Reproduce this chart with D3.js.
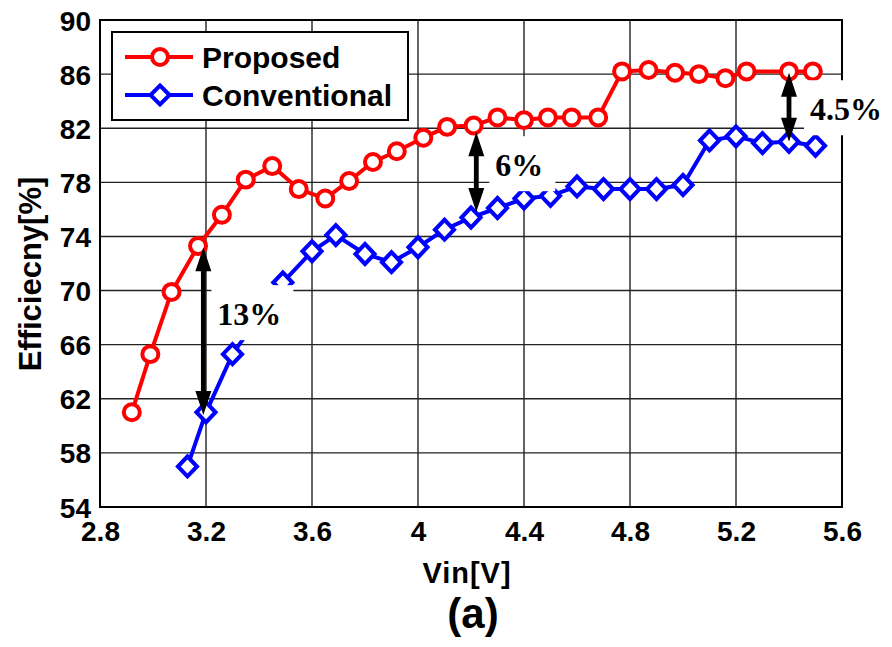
<!DOCTYPE html>
<html>
<head>
<meta charset="utf-8">
<script src="https://cdn.jsdelivr.net/npm/d3@7"></script>
<style>
  html, body { margin: 0; padding: 0; background: #fff; }
  svg { display: block; }
</style>
</head>
<body>
<svg id="chart" width="892" height="647"></svg>
<script>
// Efficiency vs input voltage, proposed vs conventional converter
const vinProposed = [2.92, 2.99, 3.07, 3.17, 3.26, 3.35, 3.45, 3.55, 3.65, 3.74, 3.83, 3.92, 4.02, 4.11,
                     4.21, 4.30, 4.40, 4.49, 4.58, 4.68, 4.77, 4.87, 4.97, 5.06, 5.16, 5.24, 5.40, 5.49];
const effProposed = [61.0, 65.3, 69.9, 73.3, 75.6, 78.2, 79.2, 77.5, 76.8, 78.1, 79.5, 80.3, 81.3, 82.1,
                     82.2, 82.8, 82.6, 82.8, 82.8, 82.8, 86.2, 86.3, 86.1, 86.0, 85.7, 86.2, 86.2, 86.2];

const vinConventional = [3.13, 3.20, 3.30, 3.49, 3.60, 3.69, 3.80, 3.90, 4.00, 4.10, 4.20, 4.30,
                         4.40, 4.50, 4.60, 4.70, 4.80, 4.90, 5.00, 5.10, 5.20, 5.30, 5.40, 5.50];
const effConventional = [57.0, 61.0, 65.3, 70.6, 72.9, 74.1, 72.7, 72.1, 73.2, 74.5, 75.4, 76.1,
                         76.8, 77.0, 77.7, 77.5, 77.5, 77.5, 77.8, 81.1, 81.4, 80.9, 81.0, 80.7];

const xTicks = [2.8, 3.2, 3.6, 4.0, 4.4, 4.8, 5.2, 5.6];
const yTicks = [54, 58, 62, 66, 70, 74, 78, 82, 86, 90];
const seriesNames = ["Proposed", "Conventional"];

// efficiency gap annotations: voltage, upper and lower ends of the arrow
const gapLabels = ["13%", "6%", "4.5%"];
const gapVin    = [3.19, 4.22, 5.40];
const gapTop    = [73.2, 81.7, 86.1];
const gapBottom = [60.8, 75.8, 81.0];

const svg = d3.select("#chart");
const M = { left: 100, right: 842, top: 20, bottom: 507 };

const x = d3.scaleLinear().domain([2.8, 5.6]).range([M.left, M.right]);
const y = d3.scaleLinear().domain([54, 90]).range([M.bottom, M.top]);

const SANS = "'Liberation Sans', Arial, Helvetica, sans-serif";
const SERIF = "'Liberation Serif', 'Times New Roman', serif";

// grid
const grid = svg.append("g");
grid.selectAll("line.gx").data(xTicks).join("line")
  .attr("x1", d => x(d)).attr("x2", d => x(d))
  .attr("y1", M.top).attr("y2", M.bottom)
  .attr("stroke", "#222").attr("stroke-width", 1.4);
grid.selectAll("line.gy").data(yTicks).join("line")
  .attr("x1", M.left).attr("x2", M.right)
  .attr("y1", d => y(d)).attr("y2", d => y(d))
  .attr("stroke", "#222").attr("stroke-width", 1.4);

// axes
const xAxis = d3.axisBottom(x).tickValues(xTicks).tickSize(0).tickPadding(14)
  .tickFormat(d => d3.format("")(+d.toFixed(1)));
const yAxis = d3.axisLeft(y).tickValues(yTicks).tickSize(0).tickPadding(9);

const gx = svg.append("g").attr("transform", `translate(0,${M.bottom})`).call(xAxis);
const gy = svg.append("g").attr("transform", `translate(${M.left},0)`).call(yAxis);
[gx, gy].forEach(g => {
  g.select(".domain").remove();
  g.selectAll("text")
    .attr("fill", "#000")
    .style("font-family", SANS)
    .style("font-weight", "bold")
    .style("font-size", "28px");
});
gx.selectAll("text").attr("dy", "0.72em");
gy.selectAll("text").attr("dy", "0.36em");

// plot frame
svg.append("rect")
  .attr("x", M.left).attr("y", M.top)
  .attr("width", M.right - M.left).attr("height", M.bottom - M.top)
  .attr("fill", "none").attr("stroke", "#000").attr("stroke-width", 2);

// series
const proposed = vinProposed.map((v, i) => ({ v, e: effProposed[i] }));
const conventional = vinConventional.map((v, i) => ({ v, e: effConventional[i] }));

const line = d3.line().x(d => x(d.v)).y(d => y(d.e));

function drawSeries(data, color, shape) {
  const g = svg.append("g");
  g.append("path").datum(data)
    .attr("d", line).attr("fill", "none")
    .attr("stroke", color).attr("stroke-width", 4)
    .attr("stroke-linejoin", "round");
  const sym = d3.symbol().type(shape === "circle" ? d3.symbolCircle : d3.symbolDiamond2)
    .size(shape === "circle" ? 200 : 230);
  g.selectAll("path.m").data(data).join("path")
    .attr("class", "m")
    .attr("d", sym)
    .attr("transform", d => shape === "circle"
      ? `translate(${x(d.v)},${y(d.e)})`
      : `translate(${x(d.v)},${y(d.e)}) scale(1,1.05)`)
    .attr("fill", "#fff").attr("stroke", color).attr("stroke-width", 4);
}
drawSeries(proposed, "#ff0000", "circle");
drawSeries(conventional, "#0000ff", "diamond");

// gap annotations: white-backed labels and double-headed arrows
const labelOffset = [[14, -6], [19, 4], [21, 13]];
gapLabels.forEach((lab, i) => {
  const ax = x(gapVin[i]);
  const yTop = y(gapTop[i]), yBot = y(gapBottom[i]);
  const mid = (yTop + yBot) / 2;
  const g = svg.append("g");
  const bg = g.append("rect").attr("fill", "#fff");
  const t = g.append("text")
    .attr("x", ax + labelOffset[i][0]).attr("y", mid + labelOffset[i][1])
    .style("font-family", SERIF).style("font-weight", "bold").style("font-size", "32px")
    .attr("fill", "#000").text(lab);
  const bb = t.node().getBBox();
  bg.attr("x", bb.x - 6).attr("y", bb.y - 11)
    .attr("width", bb.width + 18).attr("height", bb.height + 19);

  const hl = 24, hw = 8, sw = 2.4;
  g.append("path")
    .attr("d", `M${ax},${yTop} L${ax + hw},${yTop + hl} L${ax + sw},${yTop + hl}
                L${ax + sw},${yBot - hl} L${ax + hw},${yBot - hl} L${ax},${yBot}
                L${ax - hw},${yBot - hl} L${ax - sw},${yBot - hl} L${ax - sw},${yTop + hl}
                L${ax - hw},${yTop + hl} Z`)
    .attr("fill", "#000");
});

// legend
const lg = svg.append("g");
lg.append("rect").attr("x", 112).attr("y", 32).attr("width", 296).attr("height", 88)
  .attr("fill", "#fff").attr("stroke", "#000").attr("stroke-width", 2);
const legendColors = ["#ff0000", "#0000ff"];
const legendShapes = [d3.symbolCircle, d3.symbolDiamond2];
seriesNames.forEach((name, i) => {
  const ly = 57 + i * 38;
  lg.append("line").attr("x1", 125).attr("x2", 193).attr("y1", ly).attr("y2", ly)
    .attr("stroke", legendColors[i]).attr("stroke-width", 4);
  lg.append("path").attr("d", d3.symbol().type(legendShapes[i]).size(i === 0 ? 200 : 230))
    .attr("transform", `translate(160,${ly})`)
    .attr("fill", "#fff").attr("stroke", legendColors[i]).attr("stroke-width", 4);
  lg.append("text").attr("x", 202).attr("y", ly).attr("dy", "0.36em")
    .style("font-family", SANS).style("font-weight", "bold").style("font-size", "30px")
    .attr("fill", "#000").text(name);
});

// axis titles
svg.append("text")
  .attr("transform", `translate(41,274) rotate(-90)`)
  .attr("text-anchor", "middle")
  .style("font-family", SANS).style("font-weight", "bold").style("font-size", "31px")
  .attr("fill", "#000").text("Efficiecny[%]");
svg.append("text")
  .attr("x", 467).attr("y", 583).attr("text-anchor", "middle")
  .style("font-family", SANS).style("font-weight", "bold").style("font-size", "29px")
  .style("letter-spacing", "1px")
  .attr("fill", "#000").text("Vin[V]");
svg.append("text")
  .attr("x", 473).attr("y", 628).attr("text-anchor", "middle")
  .style("font-family", SANS).style("font-weight", "bold").style("font-size", "42px")
  .attr("fill", "#000").text("(a)");
</script>
</body>
</html>
